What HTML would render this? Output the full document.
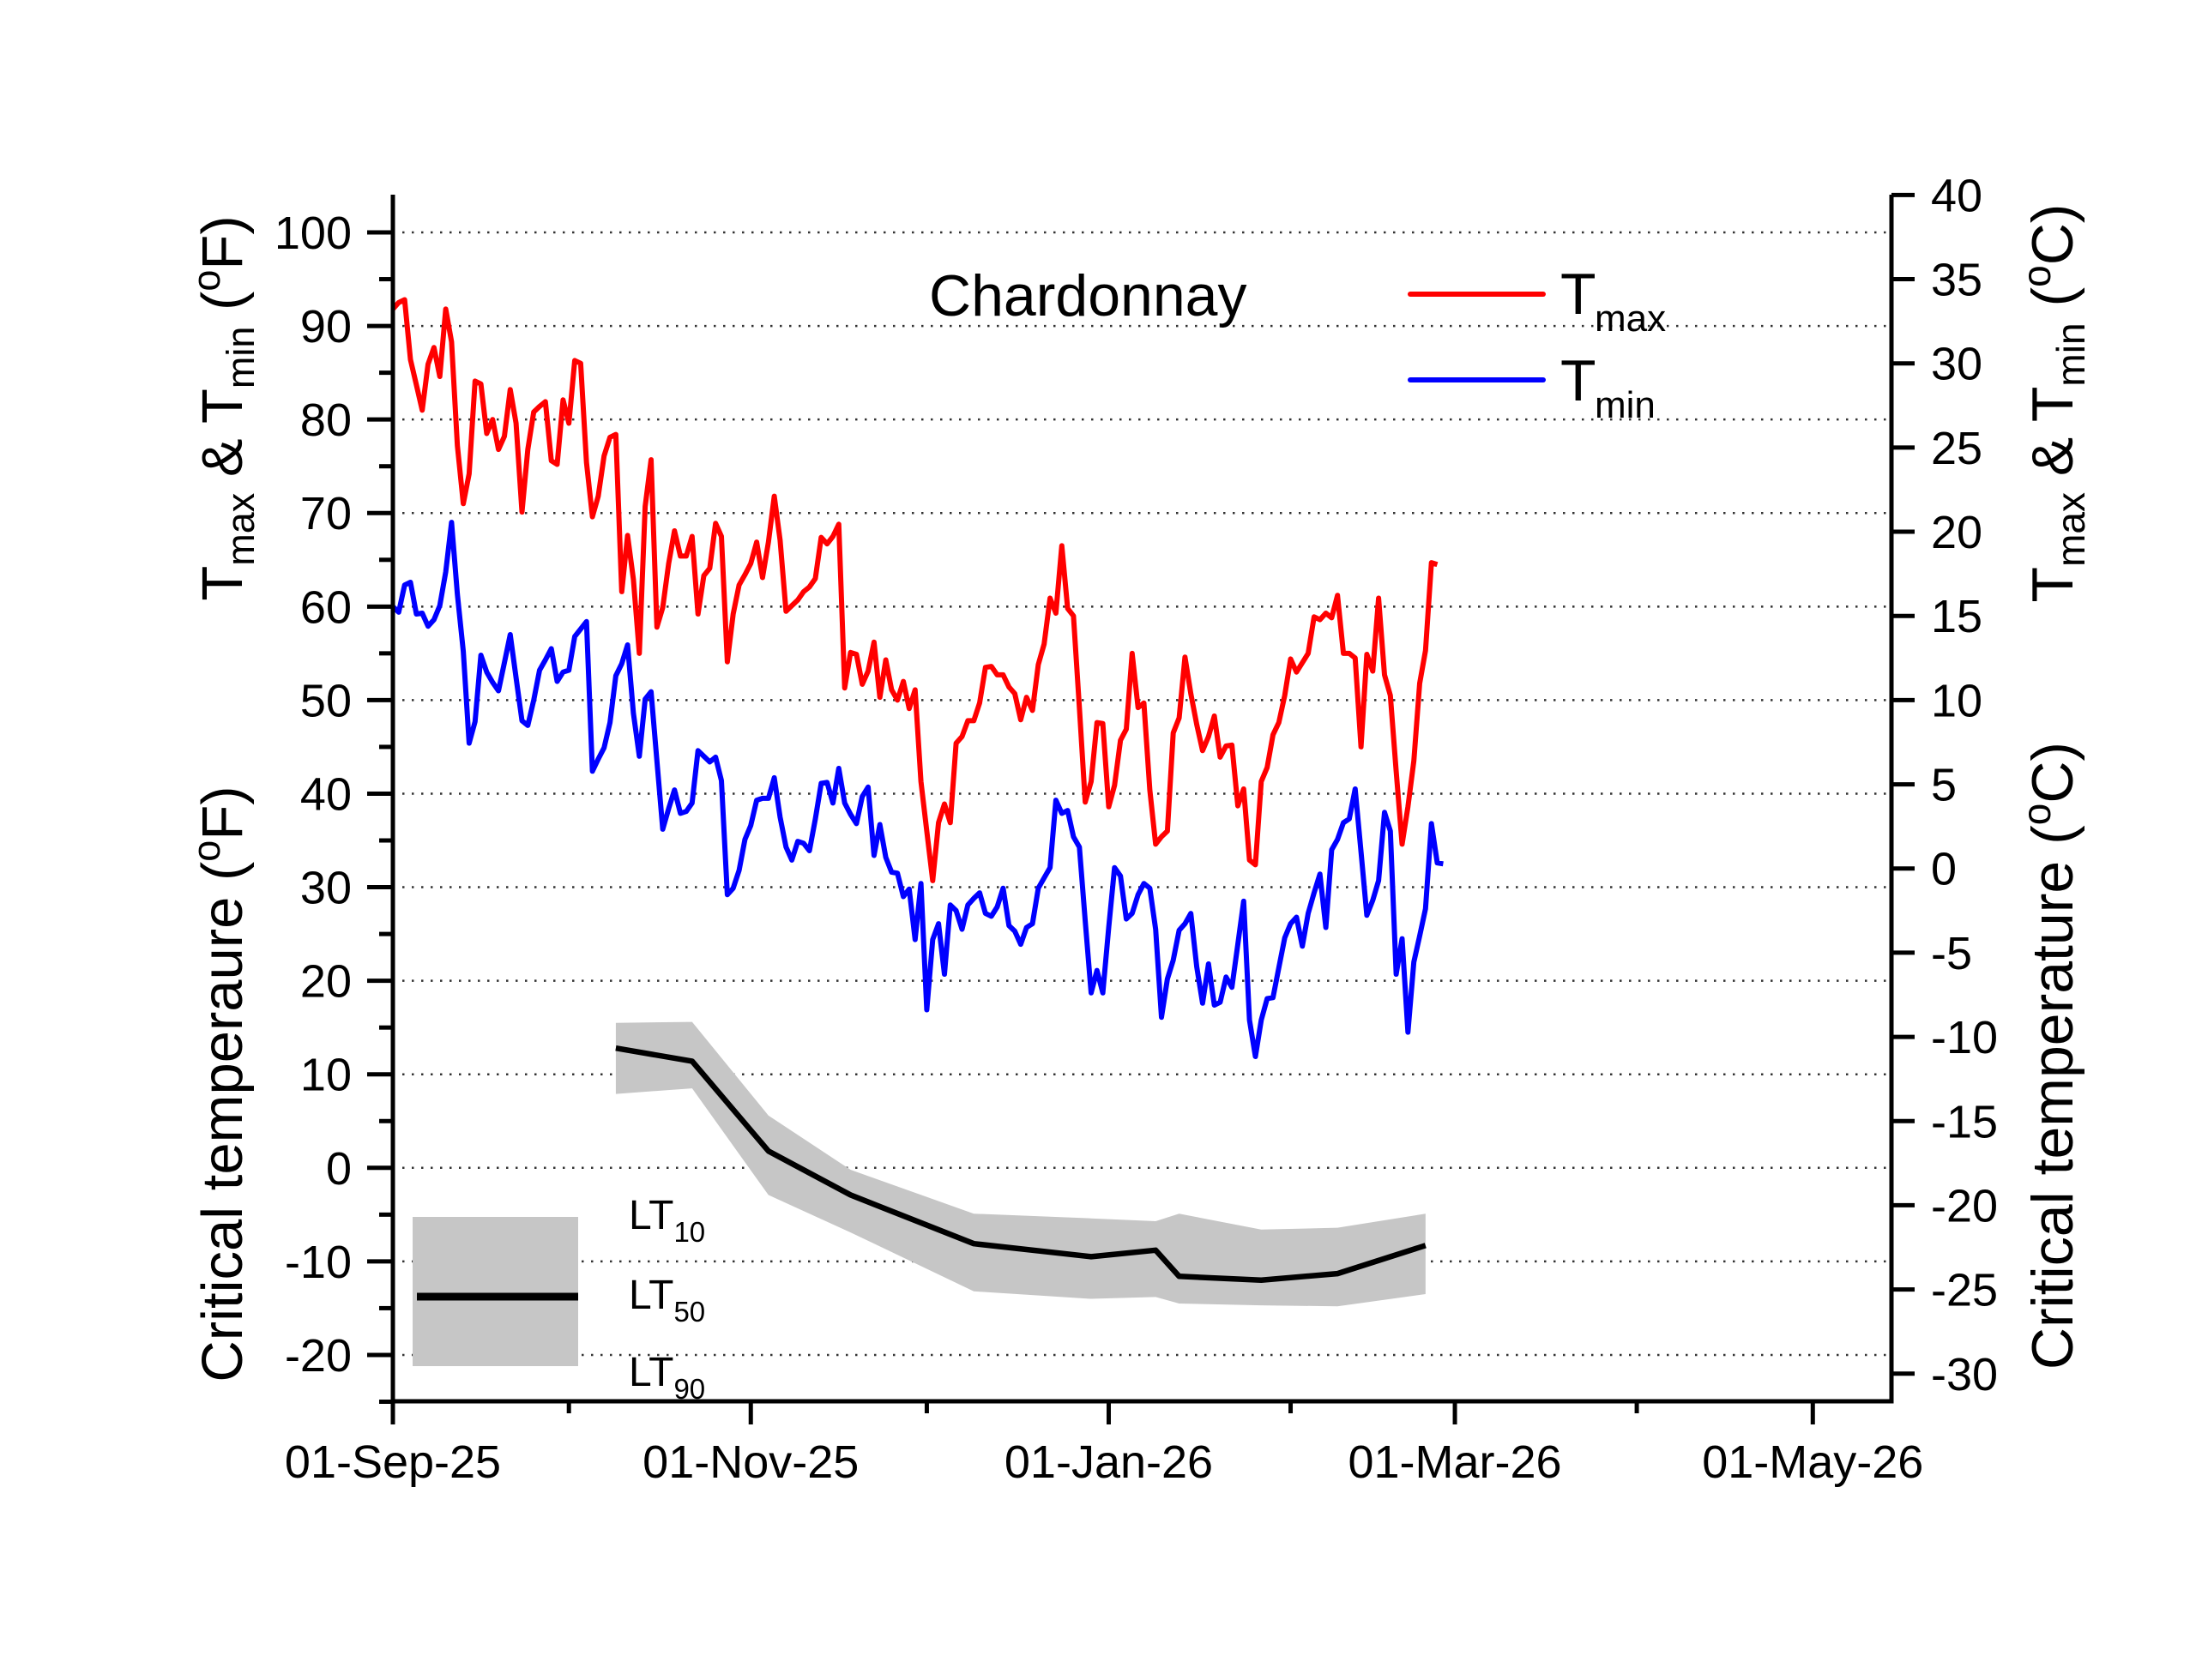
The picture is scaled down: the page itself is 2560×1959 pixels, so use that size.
<!DOCTYPE html>
<html><head><meta charset="utf-8"><title>Chardonnay temperatures</title>
<style>
html,body{margin:0;padding:0;background:#fff;}
svg{display:block;font-family:"Liberation Sans",Arial,sans-serif;}
</style></head>
<body>
<svg id="chart" width="2560" height="1959" viewBox="0 0 2560 1959" xmlns="http://www.w3.org/2000/svg">
<rect width="2560" height="1959" fill="#fff"/>
<g id="grid"></g>
<g id="band"></g>
<g id="series"></g>
<g id="axes"></g>

<text x="1083" y="368" font-size="68" fill="#000">Chardonnay</text>

<g>
<line x1="1644" y1="343" x2="1799" y2="343" stroke="#ff0000" stroke-width="6" stroke-linecap="round"/>
<text x="1819" y="366" font-size="68">T<tspan x="1859" y="386" font-size="44">max</tspan></text>
<line x1="1644" y1="443" x2="1799" y2="443" stroke="#0000ff" stroke-width="6" stroke-linecap="round"/>
<text x="1819" y="467" font-size="68">T<tspan x="1859" y="487" font-size="44">min</tspan></text>
</g>

<g>
<rect x="481" y="1419" width="193" height="174" fill="#c6c6c6"/>
<line x1="486" y1="1512" x2="674" y2="1512" stroke="#000" stroke-width="9"/>
<text x="733" y="1433" font-size="48">LT<tspan font-size="33" dy="15">10</tspan></text>
<text x="733" y="1526" font-size="48">LT<tspan font-size="33" dy="15">50</tspan></text>
<text x="733" y="1616" font-size="48">LT<tspan font-size="33" dy="15">90</tspan></text>
</g>

<text transform="translate(282,476) rotate(-90)" text-anchor="middle" font-size="67">T<tspan font-size="45" dy="14">max</tspan><tspan dy="-14"> &amp; T</tspan><tspan font-size="45" dy="14">min</tspan><tspan dy="-14"> (</tspan><tspan font-size="45" dy="-26">o</tspan><tspan dy="26">F)</tspan></text>
<text transform="translate(282,1264) rotate(-90)" text-anchor="middle" font-size="67">Critical temperaure (<tspan font-size="45" dy="-26">o</tspan><tspan dy="26">F)</tspan></text>
<text transform="translate(2416,470) rotate(-90)" text-anchor="middle" font-size="68">T<tspan font-size="46" dy="14">max</tspan><tspan dy="-14"> &amp; T</tspan><tspan font-size="46" dy="14">min</tspan><tspan dy="-14"> (</tspan><tspan font-size="46" dy="-26">o</tspan><tspan dy="26">C)</tspan></text>
<text transform="translate(2416,1231) rotate(-90)" text-anchor="middle" font-size="68">Critical temperature (<tspan font-size="46" dy="-26">o</tspan><tspan dy="26">C)</tspan></text>
</svg>
<script>
const tmax = [91.8,92.5,92.8,86.4,83.7,81,85.9,87.7,84.6,91.8,88.3,77.2,71,74.2,84.1,83.8,78.5,80,76.8,78.2,83.2,79.6,70.1,76.8,80.8,81.4,81.9,75.6,75.2,82.1,79.6,86.3,86,75.4,69.6,71.8,76.1,78.1,78.4,61.6,67.6,62.9,55,70.7,75.7,57.8,59.9,64.6,68.1,65.4,65.4,67.5,59.2,63.3,64.1,68.9,67.5,54.1,59.2,62.3,63.4,64.6,66.9,63.1,66.9,71.8,
67.1,59.5,60.1,60.7,61.6,62.1,63,67.4,66.7,67.5,68.8,51.3,55.1,54.9,51.7,53.1,56.2,50.3,54.3,51.1,50,52,49.1,51.1,41.3,36,30.7,36.9,38.9,36.9,45.4,46.1,47.8,47.8,49.7,53.5,53.6,52.7,52.7,51.4,50.7,47.9,50.3,48.9,53.8,56,60.9,59.3,66.5,59.8,59,49.2,39.1,41.3,47.6,47.5,38.6,40.9,45.7,46.9,55,
49.2,49.7,40.4,34.6,35.4,36,46.5,48.1,54.6,50.7,47.4,44.6,46.1,48.3,43.9,45.1,45.2,38.7,40.5,32.9,32.4,41.3,42.8,46.3,47.6,50.5,54.4,53,54,55,58.9,58.6,59.3,58.8,61.2,55,55,54.5,45,54.9,53.1,60.9,52.7,50.5,42.4,34.6,38.6,43.5,51.8,55.3,64.7,64.5];
const tmin = [60,59.4,62.3,62.6,59.2,59.3,57.9,58.6,60.1,63.7,69,61.3,55.2,45.4,47.7,54.8,53,51.9,51,54,57,52.4,47.8,47.3,50,53.2,54.3,55.5,52,53,53.2,56.8,57.6,58.4,42.4,43.7,44.9,47.6,52.6,53.9,55.9,48.6,44,50.1,50.9,43.5,36.2,38.4,40.4,37.9,38.1,39,44.6,44,43.4,43.9,41.4,29.2,29.9,31.8,35.1,36.6,39.3,39.5,39.5,41.7,
37.5,34.3,32.9,34.9,34.7,33.9,37.3,41.1,41.2,39,42.7,39,37.8,36.8,39.7,40.7,33.4,36.7,33.2,31.6,31.5,29,29.8,24.4,30.4,16.9,24.4,26.1,20.7,28.1,27.5,25.5,28.1,28.8,29.4,27.2,26.9,27.9,29.9,25.9,25.3,23.9,25.7,26.1,29.9,31,32.1,39.3,37.9,38.2,35.4,34.3,26.4,18.7,21.1,18.7,25.7,32.1,31.2,26.6,27.2,
29.2,30.4,29.9,25.5,16.1,20.2,22.2,25.4,26.1,27.2,21.5,17.6,21.8,17.4,17.7,20.4,19.3,23.9,28.5,15.8,11.9,15.8,18.1,18.2,21.4,24.6,26.1,26.8,23.7,27.2,29.4,31.4,25.7,34,35.1,36.9,37.3,40.5,33.8,27,28.6,30.7,38,36,20.7,24.5,14.5,22,24.8,27.7,36.8,32.6,32.5];
const ltDays = [38,51,64,78,99,119,130,134,148,161,176];
const lt10 = [15.5,15.6,5.6,-0.2,-4.9,-5.4,-5.7,-4.9,-6.6,-6.4,-4.9];
const lt50 = [12.8,11.4,1.8,-2.9,-8.1,-9.5,-8.8,-11.6,-12,-11.3,-8.3];
const lt90 = [7.9,8.5,-2.9,-6.9,-13.2,-14,-13.8,-14.5,-14.7,-14.8,-13.5];
const xTickDays = [0,61,122,181,242];
const xTickLabels = ["01-Sep-25","01-Nov-25","01-Jan-26","01-Mar-26","01-May-26"];
const xMinorDays = [30,91,153,212];
const yTicksF = [100,90,80,70,60,50,40,30,20,10,0,-10,-20];
const yTicksC = [40,35,30,25,20,15,10,5,0,-5,-10,-15,-20,-25,-30];

const NS = "http://www.w3.org/2000/svg";
const X0 = 458, PXD = 6.84, X1 = 2205;
const Y0 = 1634, Y1 = 227;
function xs(d){ return X0 + d*PXD; }
function ys(f){ return 271 + (100 - f)*10.908; }
function ysC(c){ return ys(c*9/5 + 32); }
function mk(tag, attrs, parent){
  const e = document.createElementNS(NS, tag);
  for (const k in attrs) e.setAttribute(k, attrs[k]);
  parent.appendChild(e);
  return e;
}
const grid = document.getElementById('grid');
const band = document.getElementById('band');
const series = document.getElementById('series');
const axes = document.getElementById('axes');

yTicksF.forEach(v => {
  const g = mk('line', {x1: X0, x2: X1, y1: ys(v), y2: ys(v), stroke: '#333', 'stroke-width': 2.5, 'stroke-dasharray': '2.5 8.5'}, grid);
  
  
});

let pts = ltDays.map((d,i) => xs(d) + ',' + ys(lt10[i]));
for (let i = ltDays.length - 1; i >= 0; i--) pts.push(xs(ltDays[i]) + ',' + ys(lt90[i]));
const poly = mk('polygon', {points: pts.join(' '), fill: '#c6c6c6'}, band);



function line(vals, days, color, w, name){
  const p = vals.map((v,i) => xs(days ? days[i] : i).toFixed(1) + ',' + ys(v).toFixed(1)).join(' ');
  const pl = mk('polyline', {points: p, fill: 'none', stroke: color, 'stroke-width': w, 'stroke-linejoin': 'round'}, series);
  
  
}
line(tmax, null, '#ff0000', 6, 'tmax-line');
line(tmin, null, '#0000ff', 6, 'tmin-line');
line(lt50, ltDays, '#000000', 6.5, 'lt50-line');

const la = mk('line', {x1: X0, x2: X0, y1: Y1, y2: Y0 + 2.5, stroke: '#000', 'stroke-width': 5}, axes);


const ra = mk('line', {x1: X1, x2: X1, y1: Y1, y2: Y0 + 2.5, stroke: '#000', 'stroke-width': 5}, axes);


const ba = mk('line', {x1: X0 - 2.5, x2: X1 + 2.5, y1: Y0, y2: Y0, stroke: '#000', 'stroke-width': 5}, axes);



yTicksF.forEach(v => {
  const t = mk('line', {x1: X0 - 30, x2: X0, y1: ys(v), y2: ys(v), stroke: '#000', 'stroke-width': 5}, axes);
  
  
  const m = mk('line', {x1: X0 - 16, x2: X0, y1: ys(v - 5), y2: ys(v - 5), stroke: '#000', 'stroke-width': 5}, axes);
  
  
  const tx = mk('text', {x: 410, y: ys(v) + 19, 'font-size': 54, 'text-anchor': 'end'}, axes);
  tx.textContent = String(v);
  
  
});
yTicksC.forEach(c => {
  const t = mk('line', {x1: X1, x2: X1 + 27, y1: ysC(c), y2: ysC(c), stroke: '#000', 'stroke-width': 5}, axes);
  
  
  const tx = mk('text', {x: 2251, y: ysC(c) + 19, 'font-size': 54}, axes);
  tx.textContent = String(c);
  
  
});
xTickDays.forEach((d,i) => {
  const t = mk('line', {x1: xs(d), x2: xs(d), y1: Y0, y2: Y0 + 27, stroke: '#000', 'stroke-width': 5}, axes);
  
  
  const tx = mk('text', {x: xs(d), y: 1723, 'font-size': 54, 'text-anchor': 'middle'}, axes);
  tx.textContent = xTickLabels[i];
  
  
});
xMinorDays.forEach(d => {
  const t = mk('line', {x1: xs(d), x2: xs(d), y1: Y0, y2: Y0 + 14, stroke: '#000', 'stroke-width': 5}, axes);
  
  
});
</script>
</body></html>
